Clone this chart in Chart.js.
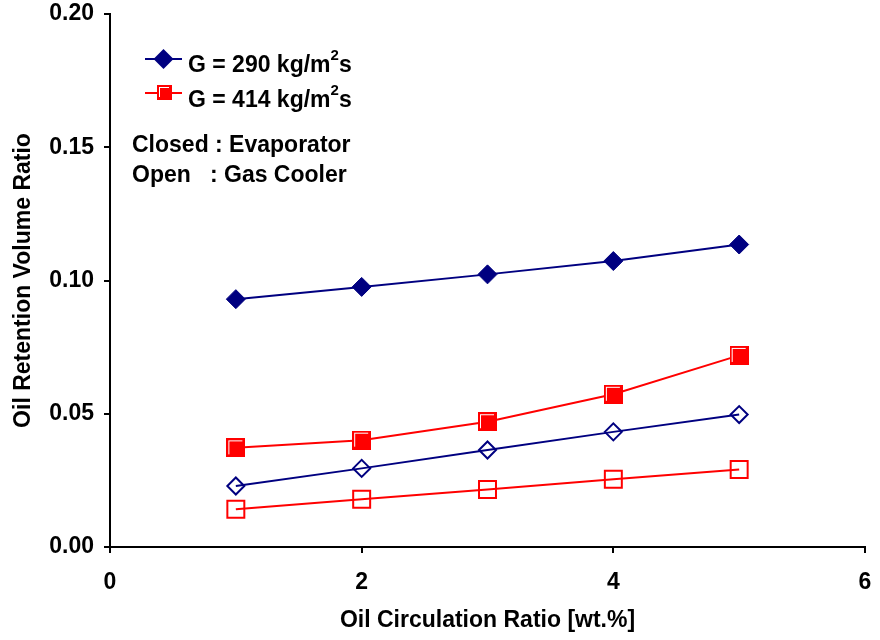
<!DOCTYPE html>
<html>
<head>
<meta charset="utf-8">
<script src="https://cdn.jsdelivr.net/npm/chart.js@4/dist/chart.umd.min.js"></script>
<style>
  html, body { margin: 0; padding: 0; background: #fff; }
  #c { display: block; }
</style>
</head>
<body>
<canvas id="c" width="880" height="640"></canvas>
<script>
// Oil circulation ratio [wt.%]
const oilCirculation = [1, 2, 3, 4, 5];
// Oil retention volume ratio, evaporator (closed markers)
const evap290 = [0.0930, 0.0976, 0.1023, 0.1073, 0.1135];
const evap414 = [0.0372, 0.0401, 0.0470, 0.0573, 0.0719];
// Oil retention volume ratio, gas cooler (open markers)
const gasCooler290 = [0.0229, 0.0295, 0.0364, 0.0432, 0.0497];
const gasCooler414 = [0.0142, 0.0179, 0.0216, 0.0254, 0.0291];
// Axis ticks
const xTicks = [0, 2, 4, 6];
const yTicks = [0, 0.05, 0.10, 0.15, 0.20];

const NAVY = '#000080';
const RED = '#ff0000';
const FONT = '"Liberation Sans", Arial, sans-serif';

// Filled square marker with the light inner bevel on its top and left edges
function filledSquare(side, color) {
  const c = document.createElement('canvas');
  c.width = side; c.height = side;
  const g = c.getContext('2d');
  g.fillStyle = color;
  g.fillRect(0, 0, side, side);
  g.fillStyle = '#ffffff';
  g.fillRect(2, 2, side - 5, 1);
  g.fillRect(2, 2, 1, side - 5);
  return c;
}

const bigSquare = filledSquare(19, RED);
const smallSquare = filledSquare(15, RED);

const pts = arr => oilCirculation.map((x, i) => ({ x, y: arr[i] }));

// Legend and annotation text drawn inside the plot
const notes = {
  id: 'notes',
  afterDraw(chart) {
    const ctx = chart.ctx;
    ctx.save();
    // legend row 1
    ctx.strokeStyle = NAVY; ctx.lineWidth = 2;
    ctx.beginPath(); ctx.moveTo(145, 59); ctx.lineTo(182, 59); ctx.stroke();
    ctx.fillStyle = NAVY;
    ctx.beginPath();
    ctx.moveTo(153.5, 59); ctx.lineTo(163.5, 49); ctx.lineTo(173.5, 59); ctx.lineTo(163.5, 69);
    ctx.closePath(); ctx.fill();
    // legend row 2
    ctx.strokeStyle = RED;
    ctx.beginPath(); ctx.moveTo(145, 93); ctx.lineTo(182, 93); ctx.stroke();
    ctx.drawImage(smallSquare, 157, 85);

    ctx.fillStyle = '#000';
    ctx.textBaseline = 'alphabetic';
    ctx.textAlign = 'left';
    const rows = [['G = 290 kg/m', 72], ['G = 414 kg/m', 107]];
    rows.forEach(([t, y]) => {
      ctx.font = 'bold 23px ' + FONT;
      let x = 188;
      ctx.fillText(t, x, y);
      x += ctx.measureText(t).width;
      ctx.font = 'bold 15px ' + FONT;
      ctx.fillText('2', x, y - 12);
      x += ctx.measureText('2').width;
      ctx.font = 'bold 23px ' + FONT;
      ctx.fillText('s', x, y);
    });
    ctx.font = 'bold 23px ' + FONT;
    ctx.fillText('Closed : Evaporator', 132, 152);
    ctx.fillText('Open   : Gas Cooler', 132, 182);
    ctx.restore();
  }
};

new Chart(document.getElementById('c'), {
  type: 'line',
  data: {
    datasets: [
      {
        label: 'G = 290 kg/m²s (evaporator)',
        data: pts(evap290),
        borderColor: NAVY, backgroundColor: NAVY, borderWidth: 2,
        pointStyle: 'rectRot', pointRadius: 9.5, pointBorderWidth: 1,
        pointBackgroundColor: NAVY, pointBorderColor: NAVY
      },
      {
        label: 'G = 414 kg/m²s (evaporator)',
        data: pts(evap414),
        borderColor: RED, backgroundColor: RED, borderWidth: 2,
        pointStyle: bigSquare, pointRadius: 10
      },
      {
        label: 'G = 290 kg/m²s (gas cooler)',
        data: pts(gasCooler290),
        borderColor: NAVY, backgroundColor: 'transparent', borderWidth: 2,
        pointStyle: 'rectRot', pointRadius: 8.5, pointBorderWidth: 2,
        pointBackgroundColor: 'rgba(0,0,0,0)', pointBorderColor: NAVY
      },
      {
        label: 'G = 414 kg/m²s (gas cooler)',
        data: pts(gasCooler414),
        borderColor: RED, backgroundColor: 'transparent', borderWidth: 2,
        pointStyle: 'rect', pointRadius: 12, pointBorderWidth: 2,
        pointBackgroundColor: 'rgba(0,0,0,0)', pointBorderColor: RED
      }
    ]
  },
  options: {
    responsive: false,
    animation: false,
    events: [],
    layout: { padding: { top: 13, right: 15, left: 0, bottom: 0 } },
    plugins: { legend: { display: false }, tooltip: { enabled: false } },
    elements: { line: { tension: 0 } },
    scales: {
      x: {
        type: 'linear', min: 0, max: 6,
        afterBuildTicks: s => { s.ticks = xTicks.map(v => ({ value: v })); },
        afterFit: s => { s.height = 93; s.paddingLeft = 0; s.paddingRight = 0; },
        grid: { drawOnChartArea: false, drawTicks: true, tickLength: 6, color: '#000', lineWidth: 2 },
        border: { display: true, color: '#000', width: 2 },
        ticks: { color: '#000', font: { family: FONT, size: 23, weight: 'bold' }, padding: 16, maxRotation: 0 },
        title: { display: true, text: 'Oil Circulation Ratio [wt.%]', color: '#000',
                 font: { family: FONT, size: 23, weight: 'bold' }, padding: { top: 0, bottom: 6 } }
      },
      y: {
        type: 'linear', min: 0, max: 0.2,
        afterBuildTicks: s => { s.ticks = yTicks.map(v => ({ value: v })); },
        afterFit: s => { s.width = 110; s.paddingTop = 0; s.paddingBottom = 0; },
        grid: { drawOnChartArea: false, drawTicks: true, tickLength: 6, color: '#000', lineWidth: 2 },
        border: { display: true, color: '#000', width: 2 },
        ticks: { color: '#000', font: { family: FONT, size: 23, weight: 'bold' }, padding: 10,
                 callback: v => Number(v).toFixed(2) },
        title: { display: true, text: 'Oil Retention Volume Ratio', color: '#000',
                 font: { family: FONT, size: 23, weight: 'bold' }, padding: { top: 10, bottom: 0 } }
      }
    }
  },
  plugins: [notes]
});
</script>
</body>
</html>
